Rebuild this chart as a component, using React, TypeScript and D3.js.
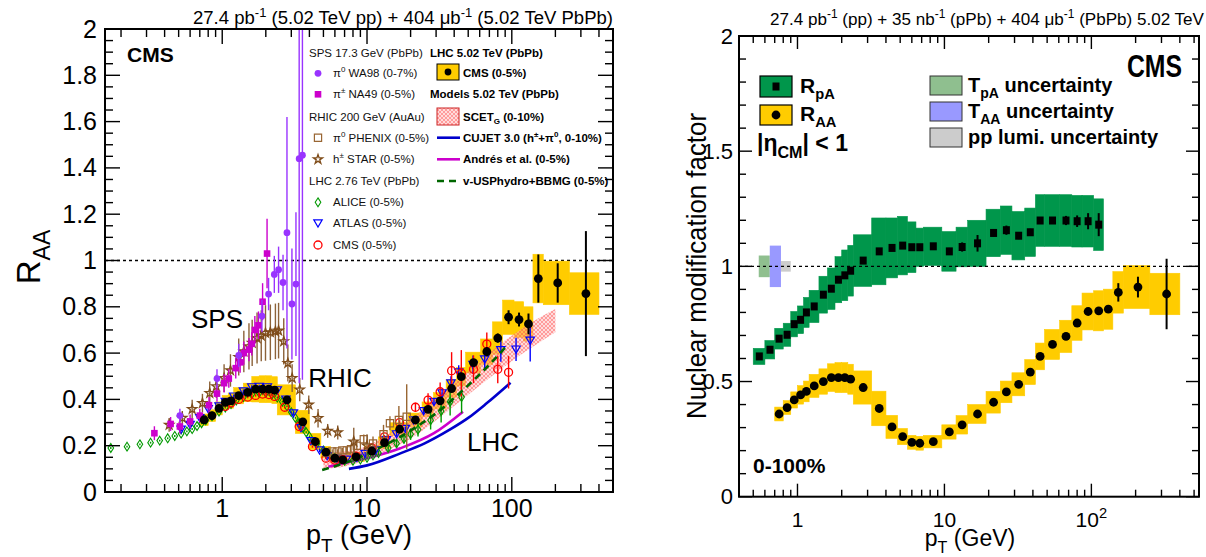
import { useEffect, useRef } from "react";
import * as d3 from "d3";

const FONT = "'Liberation Sans', Arial, Helvetica, sans-serif";

// CMS pT binning (GeV)
const raaEdges = [0.7, 0.8, 0.9, 1.0, 1.1, 1.2, 1.4, 1.6, 1.8, 2.0, 2.2, 2.4, 3.2, 4.0, 4.8, 5.6, 6.4, 7.2, 9.6, 12, 14.4, 19.2, 24, 28.8, 35.2, 41.6, 48, 60.8, 73.6, 86.4, 103.6, 120.8, 140, 165, 250, 400];
const rpaEdges = [0.5, 0.6, 0.7, 0.8, 0.9, 1.0, 1.1, 1.2, 1.4, 1.6, 1.8, 2.0, 2.2, 2.4, 3.2, 4.0, 4.8, 5.6, 6.4, 7.2, 9.6, 12, 14.4, 19.2, 24, 28.8, 35.2, 41.6, 48, 60.8, 73.6, 86.4, 103.6, 120.8];

// ---- left panel: CMS 5.02 TeV PbPb 0-5% ----
const cms05Raa = [0.312, 0.33, 0.361, 0.387, 0.394, 0.416, 0.43, 0.444, 0.444, 0.444, 0.44, 0.398, 0.303, 0.218, 0.172, 0.146, 0.139, 0.152, 0.177, 0.213, 0.271, 0.311, 0.357, 0.394, 0.447, 0.498, 0.559, 0.606, 0.665, 0.755, 0.745, 0.726, 0.922, 0.903, 0.857];
const cms05Sys = [0.025, 0.025, 0.028, 0.03, 0.032, 0.035, 0.04, 0.055, 0.058, 0.058, 0.058, 0.065, 0.05, 0.035, 0.025, 0.02, 0.02, 0.02, 0.022, 0.025, 0.028, 0.03, 0.032, 0.035, 0.038, 0.04, 0.045, 0.055, 0.07, 0.074, 0.077, 0.074, 0.105, 0.094, 0.09];
const cms05Stat = [0.003, 0.003, 0.003, 0.003, 0.003, 0.003, 0.003, 0.003, 0.003, 0.003, 0.003, 0.003, 0.003, 0.003, 0.003, 0.003, 0.003, 0.003, 0.003, 0.003, 0.006, 0.008, 0.01, 0.012, 0.015, 0.015, 0.015, 0.02, 0.02, 0.03, 0.03, 0.045, 0.104, 0.085, 0.27];

// SPS 17.3 GeV
const waPt = [0.51, 0.92, 1.3, 1.88, 2.09, 2.29, 2.45, 2.63, 2.8, 3.03, 3.23, 3.4, 3.58];
const waRaa = [0.33, 0.49, 0.59, 0.76, 0.855, 0.94, 0.96, 0.905, 1.12, 0.812, 0.898, 1.44, 1.455];
const waErr = [0.03, 0.04, 0.05, 0.07, 0.07, 0.08, 0.1, 0.12, 0.5, 0.24, 0.31, 0.97, 0.97];
const naPt = [0.34, 0.44, 0.51, 0.6, 0.7, 0.81, 0.92, 1.03, 1.11, 1.24, 1.33, 1.41, 1.53, 1.6, 1.68, 1.78, 1.9, 2.04];
const naRaa = [0.254, 0.294, 0.283, 0.305, 0.33, 0.375, 0.425, 0.47, 0.49, 0.535, 0.56, 0.6, 0.615, 0.64, 0.7, 0.72, 0.822, 1.03];
const naErr = [0.03, 0.03, 0.03, 0.03, 0.03, 0.035, 0.035, 0.04, 0.04, 0.045, 0.045, 0.05, 0.05, 0.05, 0.06, 0.06, 0.08, 0.15];

// RHIC 200 GeV
const phPt = [5.25, 5.75, 6.25, 6.75, 7.25, 7.75, 8.5, 9.5, 11, 13, 14.4, 16.6, 18.8];
const phRaa = [0.17, 0.175, 0.175, 0.18, 0.18, 0.185, 0.2, 0.228, 0.21, 0.25, 0.297, 0.311, 0.325];
const phErr = [0.01, 0.01, 0.01, 0.01, 0.015, 0.015, 0.02, 0.02, 0.03, 0.04, 0.03, 0.06, 0.14];
const stPt = [0.43, 0.53, 0.62, 0.73, 0.82, 0.91, 1.03, 1.14, 1.3, 1.41, 1.53, 1.61, 1.74, 1.86, 1.99, 2.15, 2.33, 2.45, 2.66, 2.84, 3.04, 3.43, 3.96, 4.59, 5.35, 6.28, 8.1, 10.0];
const stRaa = [0.29, 0.32, 0.358, 0.384, 0.427, 0.456, 0.492, 0.525, 0.583, 0.607, 0.629, 0.644, 0.665, 0.675, 0.687, 0.69, 0.694, 0.697, 0.651, 0.557, 0.492, 0.442, 0.377, 0.319, 0.264, 0.257, 0.218, 0.2];
const stErr = [0.03, 0.03, 0.04, 0.04, 0.05, 0.05, 0.06, 0.07, 0.08, 0.09, 0.1, 0.1, 0.11, 0.11, 0.12, 0.12, 0.12, 0.12, 0.1, 0.08, 0.06, 0.05, 0.04, 0.04, 0.03, 0.03, 0.06, 0.05];

// LHC 2.76 TeV
const aliPt = [0.17, 0.22, 0.27, 0.32, 0.37, 0.42, 0.47, 0.52, 0.57, 0.62, 0.67, 0.72, 0.77, 0.85, 0.95, 1.05, 1.15, 1.25, 1.4, 1.6, 1.8, 2.0, 2.2, 2.4, 2.6, 2.8, 3.0, 3.2, 3.4, 3.6, 3.8, 4.0, 4.5, 5.0, 5.5, 6.0, 6.5, 7.0, 8.0, 9.0, 10, 11, 12, 14, 16, 18, 20, 22.5, 27.5, 32.5, 37.5, 45];
const aliRaa = [0.19, 0.196, 0.206, 0.213, 0.222, 0.232, 0.242, 0.252, 0.262, 0.272, 0.285, 0.297, 0.31, 0.327, 0.347, 0.365, 0.38, 0.395, 0.41, 0.422, 0.428, 0.428, 0.42, 0.408, 0.39, 0.37, 0.345, 0.32, 0.298, 0.278, 0.258, 0.24, 0.208, 0.18, 0.16, 0.148, 0.14, 0.135, 0.135, 0.14, 0.148, 0.158, 0.168, 0.19, 0.21, 0.23, 0.25, 0.27, 0.31, 0.35, 0.39, 0.41];
const aliErr = [0.004, 0.004, 0.004, 0.004, 0.004, 0.004, 0.004, 0.004, 0.004, 0.004, 0.004, 0.004, 0.004, 0.004, 0.004, 0.004, 0.004, 0.004, 0.004, 0.004, 0.004, 0.004, 0.004, 0.004, 0.004, 0.004, 0.004, 0.004, 0.004, 0.004, 0.004, 0.004, 0.005, 0.005, 0.005, 0.005, 0.005, 0.005, 0.006, 0.006, 0.008, 0.008, 0.01, 0.015, 0.02, 0.02, 0.025, 0.03, 0.04, 0.05, 0.06, 0.07];
const atlPt = [0.52, 0.6, 0.7, 0.8, 0.95, 1.05, 1.2, 1.4, 1.6, 1.8, 2.05, 2.4, 2.75, 3.1, 3.5, 4.1, 4.7, 5.3, 6.2, 7.2, 8.5, 9.7, 11.5, 13.6, 16, 18.4, 21, 24.6, 29, 33, 38, 43, 54, 65, 84, 107, 134];
const atlRaa = [0.27, 0.29, 0.32, 0.358, 0.37, 0.39, 0.413, 0.435, 0.453, 0.455, 0.453, 0.44, 0.4, 0.34, 0.276, 0.22, 0.18, 0.155, 0.145, 0.14, 0.148, 0.165, 0.18, 0.225, 0.25, 0.273, 0.31, 0.35, 0.39, 0.427, 0.47, 0.517, 0.55, 0.573, 0.613, 0.616, 0.654];
const atlErr = [0.008, 0.008, 0.008, 0.008, 0.008, 0.008, 0.008, 0.008, 0.008, 0.008, 0.008, 0.008, 0.008, 0.008, 0.008, 0.008, 0.008, 0.008, 0.008, 0.008, 0.008, 0.008, 0.01, 0.01, 0.01, 0.01, 0.012, 0.012, 0.015, 0.02, 0.03, 0.03, 0.04, 0.04, 0.05, 0.05, 0.09];
const c276Pt = [1.05, 1.15, 1.3, 1.5, 1.7, 1.9, 2.1, 2.3, 2.7, 3.4, 4.2, 5.2, 6.0, 6.8, 8.4, 10.8, 13.2, 16.8, 21.6, 26.4, 32, 38.4, 44.8, 54.4, 67.2, 80, 95];
const c276Raa = [0.37, 0.385, 0.4, 0.41, 0.417, 0.423, 0.421, 0.413, 0.366, 0.283, 0.196, 0.146, 0.138, 0.14, 0.155, 0.19, 0.238, 0.3, 0.366, 0.397, 0.433, 0.524, 0.513, 0.53, 0.639, 0.53, 0.517];
const c276Err = [0.005, 0.005, 0.005, 0.005, 0.005, 0.005, 0.005, 0.005, 0.005, 0.005, 0.005, 0.005, 0.005, 0.005, 0.006, 0.007, 0.008, 0.01, 0.02, 0.03, 0.04, 0.08, 0.1, 0.06, 0.05, 0.06, 0.07];

// models 5.02 TeV
const scetPt = [5, 7, 10, 15, 20, 30, 50, 80, 120, 200];
const scetLo = [0.1, 0.11, 0.14, 0.19, 0.23, 0.31, 0.42, 0.52, 0.6, 0.69];
const scetHi = [0.17, 0.175, 0.2, 0.26, 0.31, 0.41, 0.52, 0.63, 0.71, 0.79];
const cujetPt = [7.5, 10, 17, 25, 37, 50, 67, 98];
const cujetRaa = [0.1, 0.115, 0.167, 0.21, 0.268, 0.32, 0.383, 0.472];
const andresPt = [5.4, 7, 10, 17, 29, 46];
const andresRaa = [0.109, 0.125, 0.146, 0.189, 0.254, 0.347];
const hydroPt = [4.9, 7, 10, 15, 22, 30, 46, 70, 95];
const hydroRaa = [0.095, 0.125, 0.165, 0.22, 0.282, 0.34, 0.44, 0.55, 0.64];

// ---- right panel: RpA and RAA (0-100%) ----
const rpaVal = [0.609, 0.638, 0.686, 0.703, 0.749, 0.768, 0.8, 0.826, 0.877, 0.903, 0.942, 0.961, 0.981, 1.025, 1.065, 1.08, 1.09, 1.083, 1.083, 1.087, 1.065, 1.084, 1.1, 1.145, 1.157, 1.133, 1.148, 1.199, 1.199, 1.199, 1.196, 1.196, 1.181];
const rpaSys = [0.035, 0.04, 0.045, 0.05, 0.055, 0.06, 0.065, 0.07, 0.08, 0.09, 0.1, 0.11, 0.11, 0.112, 0.145, 0.13, 0.127, 0.11, 0.083, 0.083, 0.086, 0.086, 0.1, 0.103, 0.105, 0.105, 0.105, 0.112, 0.112, 0.112, 0.112, 0.112, 0.112];
const rpaStat = [0.005, 0.005, 0.005, 0.005, 0.005, 0.005, 0.005, 0.005, 0.005, 0.005, 0.005, 0.005, 0.005, 0.005, 0.005, 0.005, 0.005, 0.005, 0.005, 0.005, 0.015, 0.02, 0.036, 0.015, 0.02, 0.015, 0.015, 0.015, 0.015, 0.02, 0.025, 0.035, 0.05];
const raaVal = [0.359, 0.387, 0.42, 0.442, 0.457, 0.481, 0.5, 0.517, 0.517, 0.517, 0.51, 0.474, 0.383, 0.303, 0.261, 0.236, 0.232, 0.239, 0.281, 0.312, 0.359, 0.41, 0.455, 0.488, 0.541, 0.609, 0.661, 0.696, 0.754, 0.804, 0.807, 0.814, 0.887, 0.91, 0.88];
const raaSys = [0.03, 0.03, 0.035, 0.04, 0.045, 0.05, 0.055, 0.06, 0.065, 0.065, 0.065, 0.072, 0.075, 0.05, 0.035, 0.03, 0.03, 0.027, 0.031, 0.04, 0.041, 0.047, 0.047, 0.05, 0.054, 0.058, 0.065, 0.07, 0.075, 0.08, 0.087, 0.087, 0.09, 0.093, 0.09];
const raaStat = [0.004, 0.004, 0.004, 0.004, 0.004, 0.004, 0.004, 0.004, 0.004, 0.004, 0.004, 0.004, 0.004, 0.004, 0.004, 0.004, 0.004, 0.004, 0.004, 0.004, 0.004, 0.004, 0.004, 0.004, 0.004, 0.004, 0.004, 0.004, 0.004, 0.01, 0.01, 0.015, 0.04, 0.045, 0.153];
// normalisation uncertainties drawn at unity
const normLo = [0.545, 0.648, 0.772];
const normHi = [0.648, 0.772, 0.9];
const normHalf = [0.047, 0.09, 0.023];
const normColors = ["#8fbf8f", "#9999ff", "#cccccc"];

const STAR = "#7f4c19";

type Part = [string, string?];
type G = d3.Selection<SVGGElement, unknown, null, undefined>;

function txt(g: G, x: number, y: number, size: number, parts: Part[] | string, o: any = {}) {
  const t = g.append("text")
    .attr("x", x).attr("y", y)
    .attr("font-size", size)
    .attr("text-anchor", o.anchor || "start")
    .attr("font-weight", o.weight || "normal")
    .attr("fill", o.fill || "#000");
  if (o.rot) t.attr("transform", `rotate(-90,${x},${y})`);
  if (o.len) t.attr("textLength", o.len).attr("lengthAdjust", "spacingAndGlyphs");
  const list: Part[] = typeof parts === "string" ? [[parts]] : parts;
  let shift = 0;
  list.forEach(([s, m]) => {
    const off = m === "sup" ? -0.42 * size : m === "sub" ? 0.3 * size : 0;
    const ts = t.append("tspan").attr("dy", off - shift).text(s);
    if (m) ts.attr("font-size", size * 0.7);
    shift = off;
  });
  return t;
}

function mark(g: G, kind: string, cx: number, cy: number, color: string) {
  const open = (d: string, w = 1.2) =>
    g.append("path").attr("transform", `translate(${cx},${cy})`).attr("d", d)
      .attr("fill", "none").attr("stroke", color).attr("stroke-width", w);
  switch (kind) {
    case "dot": g.append("circle").attr("cx", cx).attr("cy", cy).attr("r", 3.4).attr("fill", color); break;
    case "sq": g.append("rect").attr("x", cx - 3.3).attr("y", cy - 3.3).attr("width", 6.6).attr("height", 6.6).attr("fill", color); break;
    case "osq": open("M-3.6,-3.6H3.6V3.6H-3.6Z"); break;
    case "star": open(d3.symbol(d3.symbolStar, 26)() as string, 1.3); break;
    case "odia": open("M0,-4.4L2.8,0L0,4.4L-2.8,0Z", 1.1); break;
    case "otri": open("M-4.2,-3.4L4.2,-3.4L0,3.8Z", 1.2); break;
    case "ocirc": g.append("circle").attr("cx", cx).attr("cy", cy).attr("r", 4).attr("fill", "none").attr("stroke", color).attr("stroke-width", 1.3); break;
    case "bdot": g.append("circle").attr("cx", cx).attr("cy", cy).attr("r", 4.4).attr("fill", "#000"); break;
    case "bsq": g.append("rect").attr("x", cx - 3.5).attr("y", cy - 4).attr("width", 7).attr("height", 8).attr("fill", "#000"); break;
  }
}

function series(g: G, x: any, y: any, pts: number[], vals: number[], errs: number[], kind: string, color: string, ew = 1.4, errColor?: string) {
  g.append("g").selectAll("line").data(pts).join("line")
    .attr("x1", (d) => x(d)).attr("x2", (d) => x(d))
    .attr("y1", (_, i) => y(vals[i] - errs[i])).attr("y2", (_, i) => y(vals[i] + errs[i]))
    .attr("stroke", errColor || color).attr("stroke-width", ew);
  pts.forEach((p, i) => mark(g, kind, x(p), y(vals[i]), color));
}

function binned(g: G, x: any, y: any, edges: number[], vals: number[], sys: number[], stat: number[], fill: string, kind: string) {
  g.append("g").selectAll("rect").data(vals).join("rect")
    .attr("x", (_, i) => x(edges[i]))
    .attr("width", (_, i) => x(edges[i + 1]) - x(edges[i]))
    .attr("y", (v, i) => y(v + sys[i]))
    .attr("height", (v, i) => y(v - sys[i]) - y(v + sys[i]))
    .attr("fill", fill).attr("stroke", fill).attr("stroke-width", 0.6);
  return () => {
    const c = vals.map((_, i) => (edges[i] + edges[i + 1]) / 2);
    series(g, x, y, c, vals, stat, kind, "#000", 2);
  };
}

function axes(g: G, x: any, y: any, cfg: { maj: number; min: number; yMajor: number; yMinor: number; sw: number }) {
  const [x0, x1] = x.range();
  const [y0, y1] = y.range();
  const [d0, d1] = x.domain();
  const ticks: { v: number; major: boolean }[] = [];
  for (let e = Math.floor(Math.log10(d0)); e <= Math.ceil(Math.log10(d1)); e++) {
    for (let m = 1; m <= 9; m++) {
      const v = m * Math.pow(10, e);
      if (v >= d0 && v <= d1) ticks.push({ v, major: m === 1 });
    }
  }
  ticks.forEach((t) => {
    const px = x(t.v);
    const len = t.major ? cfg.maj : cfg.min;
    g.append("line").attr("x1", px).attr("x2", px).attr("y1", y0).attr("y2", y0 - len).attr("stroke", "#000").attr("stroke-width", 1.4);
    g.append("line").attr("x1", px).attr("x2", px).attr("y1", y1).attr("y2", y1 + len).attr("stroke", "#000").attr("stroke-width", 1.4);
  });
  const n = Math.round(y.domain()[1] / cfg.yMinor);
  d3.range(0, n + 1).forEach((k) => {
    const v = k * cfg.yMinor;
    const major = Math.abs(v / cfg.yMajor - Math.round(v / cfg.yMajor)) < 1e-6;
    const len = major ? cfg.maj : cfg.min;
    const py = y(v);
    g.append("line").attr("x1", x0).attr("x2", x0 + len).attr("y1", py).attr("y2", py).attr("stroke", "#000").attr("stroke-width", 1.4);
    g.append("line").attr("x1", x1).attr("x2", x1 - len).attr("y1", py).attr("y2", py).attr("stroke", "#000").attr("stroke-width", 1.4);
  });
  g.append("rect").attr("x", x0).attr("y", y1).attr("width", x1 - x0).attr("height", y0 - y1)
    .attr("fill", "none").attr("stroke", "#000").attr("stroke-width", cfg.sw);
}

function drawLeft(svg: G) {
  const x = d3.scaleLog().domain([0.155, 500]).range([105, 613]);
  const y = d3.scaleLinear().domain([0, 2]).range([492, 29]);

  svg.append("clipPath").attr("id", "clipL").append("rect")
    .attr("x", 105).attr("y", 29).attr("width", 508).attr("height", 463);
  const g = svg.append("g").attr("clip-path", "url(#clipL)");

  g.append("line").attr("x1", 105).attr("x2", 613).attr("y1", y(1)).attr("y2", y(1))
    .attr("stroke", "#000").attr("stroke-width", 1.3).attr("stroke-dasharray", "3,3");

  const cmsPoints = binned(g, x, y, raaEdges, cms05Raa, cms05Sys, cms05Stat, "#ffcc00", "bdot");

  const area = d3.area<number>().x((d) => x(d)).y0((_, i) => y(scetLo[i])).y1((_, i) => y(scetHi[i])).curve(d3.curveMonotoneX);
  g.append("path").attr("d", area(scetPt)).attr("fill", "url(#scetHatch)");

  const line = (pts: number[], vals: number[]) =>
    d3.line<number>().x((d) => x(d)).y((_, i) => y(vals[i])).curve(d3.curveMonotoneX)(pts);
  g.append("path").attr("d", line(cujetPt, cujetRaa)).attr("fill", "none").attr("stroke", "#0000cc").attr("stroke-width", 2.6);
  g.append("path").attr("d", line(andresPt, andresRaa)).attr("fill", "none").attr("stroke", "#cc00cc").attr("stroke-width", 2.6);

  series(g, x, y, aliPt, aliRaa, aliErr, "odia", "#009900");
  series(g, x, y, atlPt, atlRaa, atlErr, "otri", "#0000ff");
  series(g, x, y, c276Pt, c276Raa, c276Err, "ocirc", "#ff0000");
  series(g, x, y, phPt, phRaa, phErr, "osq", "#996633");
  series(g, x, y, stPt, stRaa, stErr, "star", STAR, 1.4, "#8c6239");
  series(g, x, y, naPt, naRaa, naErr, "sq", "#cc00cc");
  series(g, x, y, waPt, waRaa, waErr, "dot", "#9933ff");

  g.append("path").attr("d", line(hydroPt, hydroRaa)).attr("fill", "none").attr("stroke", "#006600")
    .attr("stroke-width", 2.6).attr("stroke-dasharray", "7,5");

  cmsPoints();

  axes(svg, x, y, { maj: 15, min: 8, yMajor: 0.2, yMinor: 0.05, sw: 2 });

  // tick labels
  d3.range(0, 11).forEach((k) => {
    const v = k * 0.2;
    txt(svg, 97, y(v) + 8.5, 25, k % 5 === 0 ? String(v) : v.toFixed(1), { anchor: "end" });
  });
  [1, 10, 100].forEach((v) => txt(svg, x(v), 517, 25, String(v), { anchor: "middle" }));

  txt(svg, 359, 544, 27, [["p"], ["T", "sub"], [" (GeV)"]], { anchor: "middle" });
  txt(svg, 40, 257, 33, [["R"], ["AA", "sub"]], { anchor: "middle", rot: true });
  txt(svg, 613, 24, 17.5, [["27.4 pb"], ["-1", "sup"], [" (5.02 TeV pp) + 404 \u03bcb"], ["-1", "sup"], [" (5.02 TeV PbPb)"]], { anchor: "end", len: 420 });
  txt(svg, 127, 62, 21, "CMS", { weight: "bold" });

  txt(svg, x(0.92), y(0.71), 26, "SPS", { anchor: "middle" });
  txt(svg, x(3.92), y(0.455), 26, "RHIC");
  txt(svg, x(49), y(0.178), 26, "LHC");

  // legend
  const rows = [52.7, 73.3, 94.3, 116.7, 137.7, 159.3, 181, 202.3, 223.3, 245];
  const fs = 11.5;
  const lx = 318, ltx = 333, rx = 437, rtx = 463;
  const left: [string, string, Part[]][] = [
    ["", "", [["SPS 17.3 GeV (PbPb)"]]],
    ["dot", "#9933ff", [["\u03c0"], ["0", "sup"], [" WA98 (0-7%)"]]],
    ["sq", "#cc00cc", [["\u03c0"], ["\u00b1", "sup"], [" NA49 (0-5%)"]]],
    ["", "", [["RHIC 200 GeV (AuAu)"]]],
    ["osq", "#996633", [["\u03c0"], ["0", "sup"], [" PHENIX (0-5%)"]]],
    ["star", STAR, [["h"], ["\u00b1", "sup"], [" STAR (0-5%)"]]],
    ["", "", [["LHC 2.76 TeV (PbPb)"]]],
    ["odia", "#009900", [["ALICE (0-5%)"]]],
    ["otri", "#0000ff", [["ATLAS (0-5%)"]]],
    ["ocirc", "#ff0000", [["CMS (0-5%)"]]],
  ];
  left.forEach(([k, c, p], i) => {
    if (k) {
      mark(svg, k, lx, rows[i], c);
      txt(svg, ltx, rows[i] + 4, fs, p, { fill: "#111" });
    } else {
      txt(svg, 309, rows[i] + 4, fs, p, { fill: "#111" });
    }
  });
  txt(svg, 430, rows[0] + 4, fs, "LHC 5.02 TeV (PbPb)", { weight: "bold" });
  svg.append("rect").attr("x", 437).attr("y", 64).attr("width", 22).attr("height", 16)
    .attr("fill", "#ffcc00").attr("stroke", "#000").attr("stroke-width", 1);
  mark(svg, "dot", 448, 72, "#000");
  txt(svg, rtx, rows[1] + 4, fs, "CMS (0-5%)", { weight: "bold" });
  txt(svg, 430, rows[2] + 4, fs, "Models 5.02 TeV (PbPb)", { weight: "bold" });
  svg.append("rect").attr("x", 437).attr("y", 108).attr("width", 22).attr("height", 17)
    .attr("fill", "url(#scetHatch)").attr("stroke", "#cc2222").attr("stroke-width", 1);
  txt(svg, rtx, rows[3] + 4, fs, [["SCET"], ["G", "sub"], [" (0-10%)"]], { weight: "bold" });
  const sample = (yy: number, color: string, dash?: string) => {
    const l = svg.append("line").attr("x1", rx).attr("x2", rx + 23).attr("y1", yy).attr("y2", yy)
      .attr("stroke", color).attr("stroke-width", 2.6);
    if (dash) l.attr("stroke-dasharray", dash);
  };
  sample(rows[4], "#0000cc");
  txt(svg, rtx, rows[4] + 4, fs, [["CUJET 3.0 (h"], ["\u00b1", "sup"], ["+\u03c0"], ["0", "sup"], [", 0-10%)"]], { weight: "bold" });
  sample(rows[5], "#cc00cc");
  txt(svg, rtx, rows[5] + 4, fs, "Andr\u00e9s et al. (0-5%)", { weight: "bold" });
  sample(rows[6], "#006600", "7,5");
  txt(svg, rtx, rows[6] + 4, fs, "v-USPhydro+BBMG (0-5%)", { weight: "bold" });
}

function drawRight(svg: G) {
  const x = d3.scaleLog().domain([0.4, 540]).range([739, 1199]);
  const y = d3.scaleLinear().domain([0, 2]).range([496.7, 36]);
  const g = svg.append("g");

  const rpaPoints = binned(g, x, y, rpaEdges, rpaVal, rpaSys, rpaStat, "#00964b", "bsq");
  const raaPoints = binned(g, x, y, raaEdges, raaVal, raaSys, raaStat, "#ffcc00", "bdot");

  g.append("g").selectAll("rect").data(normLo).join("rect")
    .attr("x", (d) => x(d))
    .attr("width", (d, i) => x(normHi[i]) - x(d))
    .attr("y", (_, i) => y(1 + normHalf[i]))
    .attr("height", (_, i) => y(1 - normHalf[i]) - y(1 + normHalf[i]))
    .attr("fill", (_, i) => normColors[i]);

  g.append("line").attr("x1", 739).attr("x2", 1199).attr("y1", y(1)).attr("y2", y(1))
    .attr("stroke", "#000").attr("stroke-width", 1.4).attr("stroke-dasharray", "3,3");

  rpaPoints();
  raaPoints();

  axes(svg, x, y, { maj: 13, min: 7, yMajor: 0.5, yMinor: 0.1, sw: 2 });

  [0, 0.5, 1, 1.5, 2].forEach((v) => txt(svg, 733, y(v) + 7.5, 22, String(v), { anchor: "end" }));
  txt(svg, x(1), 527, 21, "1", { anchor: "middle" });
  txt(svg, x(10), 527, 21, "10", { anchor: "middle" });
  txt(svg, x(100), 527, 21, [["10"], ["2", "sup"]], { anchor: "middle" });

  txt(svg, 970, 546, 23, [["p"], ["T", "sub"], [" (GeV)"]], { anchor: "middle" });
  txt(svg, 706, 266, 28, "Nuclear modification factor", { anchor: "middle", rot: true, len: 306 });
  txt(svg, 1204, 25, 17, [["27.4 pb"], ["-1", "sup"], [" (pp) + 35 nb"], ["-1", "sup"], [" (pPb) + 404 \u03bcb"], ["-1", "sup"], [" (PbPb) 5.02 TeV"]], { anchor: "end", len: 434 });
  txt(svg, 1127, 77, 31, "CMS", { weight: "bold", len: 55 });

  // legend
  svg.append("rect").attr("x", 760).attr("y", 76).attr("width", 32).attr("height", 21)
    .attr("fill", "#00964b").attr("stroke", "#000").attr("stroke-width", 1.2);
  mark(svg, "bsq", 776, 86.5, "#000");
  txt(svg, 800, 93, 21, [["R"], ["pA", "sub"]], { weight: "bold" });
  svg.append("rect").attr("x", 760).attr("y", 105).attr("width", 32).attr("height", 20)
    .attr("fill", "#ffcc00").attr("stroke", "#000").attr("stroke-width", 1.2);
  mark(svg, "bdot", 776, 115, "#000");
  txt(svg, 800, 121, 21, [["R"], ["AA", "sub"]], { weight: "bold" });
  txt(svg, 757, 151, 23, [["|\u03b7"], ["CM", "sub"], ["| < 1"]], { weight: "bold" });

  const items: [string, Part[], number][] = [
    ["#8fbf8f", [["T"], ["pA", "sub"], [" uncertainty"]], 76],
    ["#9999ff", [["T"], ["AA", "sub"], [" uncertainty"]], 102],
    ["#cccccc", [["pp lumi. uncertainty"]], 128],
  ];
  items.forEach(([c, p, yy]) => {
    svg.append("rect").attr("x", 930).attr("y", yy).attr("width", 32).attr("height", 19)
      .attr("fill", c).attr("stroke", "#333").attr("stroke-width", 1);
    txt(svg, 968, yy + 16, 20, p, { weight: "bold" });
  });

  txt(svg, 753, 473, 21, "0-100%", { weight: "bold" });
}

export default function App() {
  const ref = useRef<SVGSVGElement>(null);

  useEffect(() => {
    const svg = d3.select(ref.current);
    svg.selectAll("*").remove();
    svg.style("font-family", FONT);

    const pat = svg.append("defs").append("pattern").attr("id", "scetHatch")
      .attr("patternUnits", "userSpaceOnUse").attr("width", 4).attr("height", 4);
    pat.append("rect").attr("width", 4).attr("height", 4).attr("fill", "#ffb0b0").attr("fill-opacity", 0.45);
    pat.append("path").attr("d", "M0,4L4,0M0,0L4,4").attr("stroke", "#ff4040").attr("stroke-width", 0.6).attr("stroke-opacity", 0.7);

    const root = svg.append("g") as unknown as G;
    drawLeft(root.append("g") as G);
    drawRight(root.append("g") as G);
  }, []);

  return (
    <svg
      ref={ref}
      width={1206}
      height={557}
      style={{ position: "absolute", left: 0, top: 0, background: "#fff" }}
    />
  );
}
